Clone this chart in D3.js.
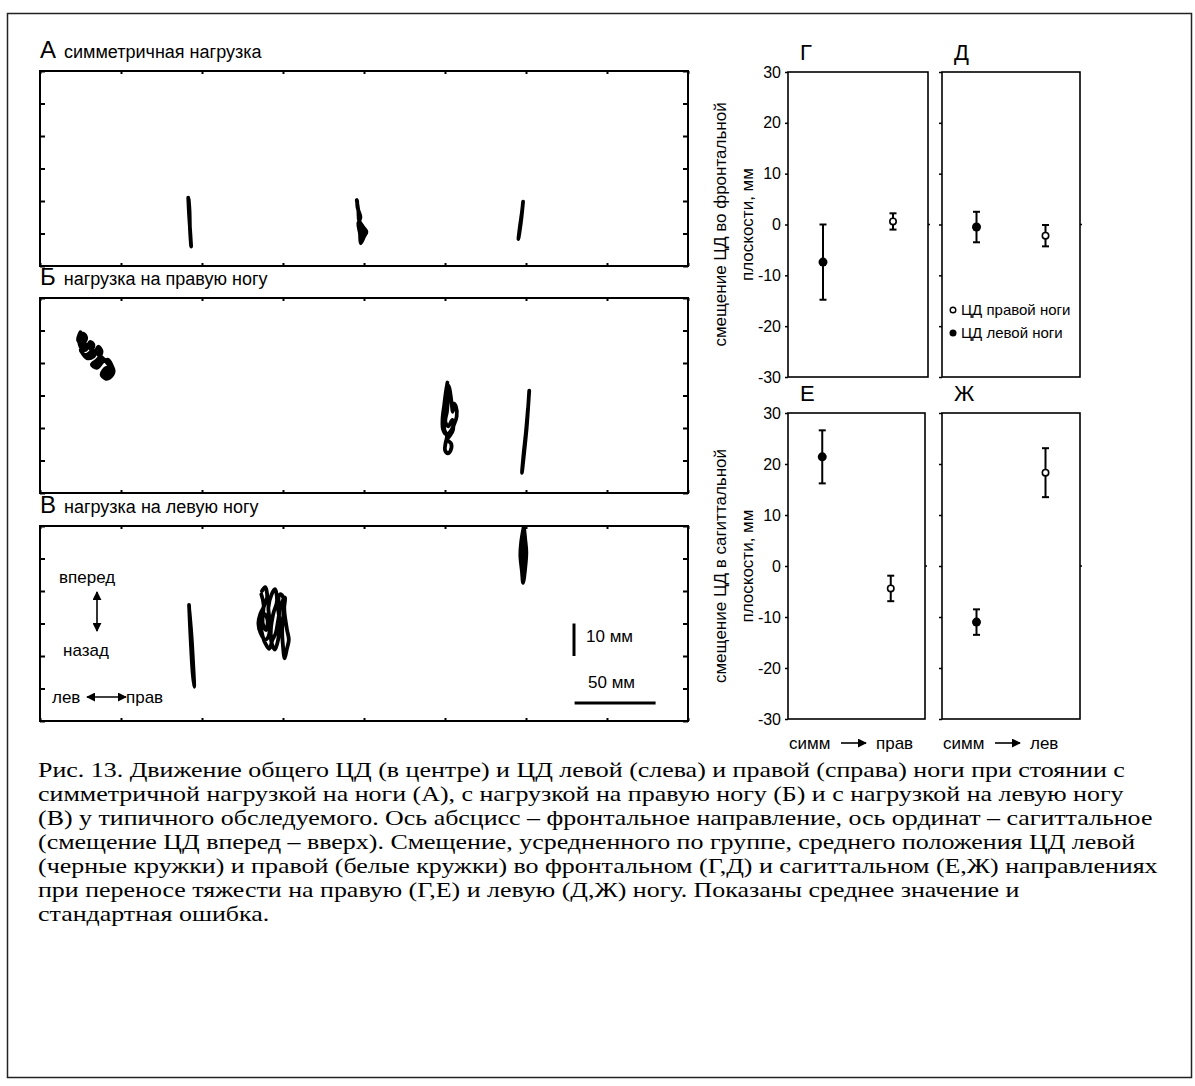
<!DOCTYPE html>
<html>
<head>
<meta charset="utf-8">
<script src="https://cdn.jsdelivr.net/npm/d3@7"></script>
<style>
  body { margin: 0; background: #fff; }
  svg { display: block; }
</style>
</head>
<body>
<script>
// ---- Center-of-pressure traces, mm (x: frontal 0..400, y: sagittal 0..60) ----
// A: symmetric load
const symLeft   = [[91.5,21],[92,16],[92.8,10],[93.3,6],[92.6,11],[92.3,17],[91.8,20.5]];
const symCenter = [[195.5,20.3],[196.5,17],[197,14],[199.5,12],[201.5,10.5],[200,9],[198,7],[197.5,10],
                   [196.5,13],[197.8,15],[196,18],[195.8,20]];
const symRight  = [[298.2,19.8],[297,14],[295.3,8.3],[296.2,12],[297.6,17],[298.2,19.8]];
// Б: load on the right leg
const rightLoadLeft = [[25,49.5],[23.5,47],[26,46],[28.5,47.5],[27,49],[24.5,48],[25,45],[28,44],[31,46.5],
                       [33,45.5],[30.5,43],[27.5,42.5],[25,44],[29,41.5],[33,42],[36,45],[38,43.5],[35.5,41],
                       [32,39.5],[35,38.5],[39,40.5],[42,41],[44.5,39],[45.5,37.5],[43,35.5],[40.5,35.2],
                       [38,36.5],[41,38.5],[43.5,38],[41.5,40],[37.5,42],[34,43.5],[31,44.5],[28.5,45.5],[26,47.5]];
const rightLoadCenter = [[251.5,34],[250.5,31],[249.5,27],[248.5,23],[248.8,19.5],[251,18],[253.5,19],[255.5,21],
                         [257.2,23.5],[256.8,26.5],[255.5,27.5],[254.8,25],[254,28],[253.2,31],[252.3,33],[251.8,29],
                         [251.2,25],[250.2,22],[252,20.5],[254.5,22.5],[255,19.5],[252.8,17.5],[251.2,16.5],
                         [253.8,15.2],[253.4,13],[251.8,12.2],[250,13.2],[250.4,15.5],[251.2,17.5],[249.6,19.5],
                         [249.2,24],[250,28.5],[250.8,32]];
const rightLoadRight = [[302,31.5],[301,24],[300.4,20],[299.2,14],[297.5,6.2],[298.5,12],[300,19],[301.2,26]];
// В: load on the left leg
const leftLoadLeft = [[92,35.7],[93,25],[94.2,15],[95.2,10.5],[94.5,18],[93.4,27],[92.2,34]];
const leftLoadCenter = [[137,40],[139,41.2],[140.2,38],[138,35],[136,33],[134.8,30],[136.2,27],[139,25],[141,26],
                        [142,30],[141,35],[143,39],[145,40.6],[146.3,37],[144,33],[142.5,28],[143,24],[145,22],
                        [147,25],[148,30],[147,35],[148.2,39],[150,38.2],[151,33],[152.5,28],[153.6,25],[152.3,22],
                        [151,19.3],[150,23],[149.5,28],[150.5,34],[151.2,38],[149,36],[147,31],[145.5,27],[143.5,25],
                        [141.5,22.2],[139.5,23.5],[137.5,26],[136.2,31],[138.5,33],[140.5,31],[139.5,28],[137.5,30],
                        [138,36],[136.6,39]];
const leftLoadRight = [[298.5,59.5],[297,55],[296.5,51],[297.5,46],[298.2,42.5],[299.5,47],[300.2,52],[299.5,56],[298.8,59.5]];

// ---- Group mean CoP displacement (mm) and standard error ----
const footSeries = ["ЦД левой ноги", "ЦД правой ноги"];
const frontalToRight    = [-7.4, 0.6];
const frontalToRightSE  = [7.4, 1.6];
const frontalToLeft     = [-0.5, -2.2];
const frontalToLeftSE   = [3.0, 2.1];
const sagittalToRight   = [21.4, -4.4];
const sagittalToRightSE = [5.2, 2.5];
const sagittalToLeft    = [-11.0, 18.3];
const sagittalToLeftSE  = [2.5, 4.8];
const shiftTicks = [-30, -20, -10, 0, 10, 20, 30];

const captionLines = [
  "Рис. 13. Движение общего ЦД (в центре) и ЦД левой (слева) и правой (справа) ноги при стоянии с",
  "симметричной нагрузкой на ноги (А), с нагрузкой на правую ногу (Б) и с нагрузкой на левую ногу",
  "(В) у типичного обследуемого. Ось абсцисс – фронтальное направление, ось ординат – сагиттальное",
  "(смещение ЦД вперед – вверх). Смещение, усредненного по группе, среднего положения ЦД левой",
  "(черные кружки) и правой (белые кружки) во фронтальном (Г,Д) и сагиттальном (Е,Ж) направлениях",
  "при переносе тяжести на правую (Г,Е) и левую (Д,Ж) ногу. Показаны среднее значение и",
  "стандартная ошибка."
];

const SANS = "'Liberation Sans', Arial, sans-serif";
const SERIF = "'Liberation Serif', 'Times New Roman', serif";

const svg = d3.select("body").append("svg").attr("width", 1195).attr("height", 1086);

const defs = svg.append("defs");
defs.append("marker").attr("id", "head").attr("viewBox", "0 0 10 10")
  .attr("refX", 9).attr("refY", 5).attr("markerWidth", 9).attr("markerHeight", 9)
  .attr("markerUnits", "userSpaceOnUse").attr("orient", "auto-start-reverse")
  .append("path").attr("d", "M0,0 L10,5 L0,10 Z").attr("fill", "#000");

// page frame
svg.append("rect").attr("x", 7.5).attr("y", 13.5).attr("width", 1184).attr("height", 1064)
  .attr("fill", "none").attr("stroke", "#222").attr("stroke-width", 1.5);

// ---- stance panels ----
const stanceX = d3.scaleLinear().domain([0, 400]).range([40, 688]);
const stancePanels = [
  { letter: "А", label: "симметричная нагрузка", top: 71,
    traces: [symLeft, symCenter, symRight], fill: ["nonzero", "nonzero", "nonzero"] },
  { letter: "Б", label: "нагрузка на правую ногу", top: 298,
    traces: [rightLoadLeft, rightLoadCenter, rightLoadRight], fill: ["evenodd", null, "nonzero"] },
  { letter: "В", label: "нагрузка на левую ногу", top: 526,
    traces: [leftLoadLeft, leftLoadCenter, leftLoadRight], fill: ["nonzero", null, "nonzero"] }
];
const stanceH = 195;

stancePanels.forEach((p, i) => {
  const y = d3.scaleLinear().domain([0, 60]).range([p.top + stanceH, p.top]);
  const g = svg.append("g");

  const t = g.append("text").attr("x", 40).attr("y", p.top - 13).attr("font-family", SANS).attr("fill", "#000");
  t.append("tspan").attr("font-size", 24).text(p.letter);
  t.append("tspan").attr("font-size", 18).attr("dx", 8).text(p.label);

  const clean = sel => { sel.select(".domain").remove(); sel.selectAll("text").remove();
    sel.selectAll("line").attr("stroke", "#000").attr("stroke-width", 2); };
  const xt = d3.range(0, 401, 50), yt = d3.range(0, 61, 10);
  g.append("g").attr("transform", `translate(0,${p.top})`)
    .call(d3.axisBottom(stanceX).tickValues(xt).tickSize(3)).call(clean);
  g.append("g").attr("transform", `translate(0,${p.top + stanceH})`)
    .call(d3.axisTop(stanceX).tickValues(xt).tickSize(3)).call(clean);
  g.append("g").attr("transform", `translate(40,0)`)
    .call(d3.axisRight(y).tickValues(yt).tickSize(5)).call(clean);
  g.append("g").attr("transform", `translate(688,0)`)
    .call(d3.axisLeft(y).tickValues(yt).tickSize(5)).call(clean);

  g.append("rect").attr("x", 40).attr("y", p.top).attr("width", 648).attr("height", stanceH)
    .attr("fill", "none").attr("stroke", "#000").attr("stroke-width", 2);

  const line = d3.line().x(d => stanceX(d[0])).y(d => y(d[1])).curve(d3.curveCatmullRom.alpha(0.5));
  p.traces.forEach((tr, k) => {
    const rule = p.fill[k];
    g.append("path").attr("d", line(tr)).attr("fill", rule ? "#000" : "none").attr("fill-rule", rule || "nonzero")
      .attr("stroke", "#000").attr("stroke-width", 3.8)
      .attr("stroke-linejoin", "round").attr("stroke-linecap", "round");
  });

  if (i === 2) {
    // orientation key
    const ak = g.append("g").attr("font-family", SANS).attr("font-size", 17).attr("fill", "#000");
    ak.append("text").attr("x", 59).attr("y", 583).text("вперед");
    ak.append("text").attr("x", 63).attr("y", 656).text("назад");
    ak.append("line").attr("x1", 97).attr("x2", 97).attr("y1", 592).attr("y2", 631)
      .attr("stroke", "#000").attr("stroke-width", 1.6)
      .attr("marker-start", "url(#head)").attr("marker-end", "url(#head)");
    ak.append("text").attr("x", 52).attr("y", 703).text("лев");
    ak.append("line").attr("x1", 87).attr("x2", 126).attr("y1", 697).attr("y2", 697)
      .attr("stroke", "#000").attr("stroke-width", 1.6)
      .attr("marker-start", "url(#head)").attr("marker-end", "url(#head)");
    ak.append("text").attr("x", 126).attr("y", 703).text("прав");

    // scale bars: 10 mm sagittal, 50 mm frontal
    g.append("line").attr("x1", 574).attr("x2", 574).attr("y1", y(30)).attr("y2", y(30) + (y(0) - y(10)))
      .attr("stroke", "#000").attr("stroke-width", 3);
    ak.append("text").attr("x", 586).attr("y", 642).text("10 мм");
    g.append("line").attr("x1", stanceX(330)).attr("x2", stanceX(380)).attr("y1", 703).attr("y2", 703)
      .attr("stroke", "#000").attr("stroke-width", 3);
    ak.append("text").attr("x", 588).attr("y", 688).text("50 мм");
  }
});

// ---- mean displacement panels ----
const devPanels = [
  { letter: "Г", mean: frontalToRight,  se: frontalToRightSE,  x0: 788, x1: 928, top: 72,  bottom: 377, lead: true,
    ylab: ["смещение ЦД во фронтальной", "плоскости, мм"] },
  { letter: "Д", mean: frontalToLeft,   se: frontalToLeftSE,   x0: 942, x1: 1080, top: 72,  bottom: 377, legend: true },
  { letter: "Е", mean: sagittalToRight, se: sagittalToRightSE, x0: 788, x1: 925, top: 413, bottom: 719, lead: true,
    ylab: ["смещение ЦД в сагиттальной", "плоскости, мм"], xlab: ["симм", "прав"] },
  { letter: "Ж", mean: sagittalToLeft,  se: sagittalToLeftSE,  x0: 942, x1: 1080, top: 413, bottom: 719, xlab: ["симм", "лев"] }
];

devPanels.forEach(p => {
  const g = svg.append("g").attr("font-family", SANS);
  const x = d3.scalePoint().domain(footSeries).range([p.x0, p.x1]).padding(0.5);
  const y = d3.scaleLinear().domain([-30, 30]).range([p.bottom, p.top]);

  g.append("text").attr("x", p.x0 + 12).attr("y", p.top - 12).attr("font-size", 22).text(p.letter);

  const ax = g.append("g").attr("transform", `translate(${p.x0},0)`)
    .call(d3.axisLeft(y).tickValues(shiftTicks).tickSize(3).tickPadding(4).tickFormat(d => String(d)));
  ax.select(".domain").remove();
  ax.selectAll("line").attr("stroke", "#000").attr("stroke-width", 1.5);
  if (p.lead) ax.selectAll("text").attr("font-size", 16).attr("font-family", SANS).attr("fill", "#000");
  else ax.selectAll("text").remove();

  // small tick at zero on the right edge
  g.append("line").attr("x1", p.x1).attr("x2", p.x1 + 2).attr("y1", y(0)).attr("y2", y(0))
    .attr("stroke", "#000").attr("stroke-width", 1.5);

  g.append("rect").attr("x", p.x0).attr("y", p.top).attr("width", p.x1 - p.x0).attr("height", p.bottom - p.top)
    .attr("fill", "none").attr("stroke", "#000").attr("stroke-width", 1.6);

  footSeries.forEach((s, k) => {
    const cx = x(s), m = p.mean[k], e = p.se[k];
    g.append("line").attr("x1", cx).attr("x2", cx).attr("y1", y(m + e)).attr("y2", y(m - e))
      .attr("stroke", "#000").attr("stroke-width", 2);
    [m + e, m - e].forEach(v => g.append("line").attr("x1", cx - 3.5).attr("x2", cx + 3.5)
      .attr("y1", y(v)).attr("y2", y(v)).attr("stroke", "#000").attr("stroke-width", 2));
    if (k === 0) g.append("circle").attr("cx", cx).attr("cy", y(m)).attr("r", 4.5).attr("fill", "#000");
    else g.append("circle").attr("cx", cx).attr("cy", y(m)).attr("r", 3.2).attr("fill", "#fff")
      .attr("stroke", "#000").attr("stroke-width", 1.6);
  });

  if (p.ylab) {
    const cy = (p.top + p.bottom) / 2;
    p.ylab.forEach((l, k) => g.append("text")
      .attr("transform", `translate(${726 + k * 27},${cy}) rotate(-90)`)
      .attr("text-anchor", "middle").attr("font-size", 17).text(l));
  }

  if (p.legend) {
    const lg = g.append("g").attr("font-size", 15);
    lg.append("circle").attr("cx", 953).attr("cy", 310).attr("r", 2.8).attr("fill", "#fff")
      .attr("stroke", "#000").attr("stroke-width", 1.4);
    lg.append("text").attr("x", 961).attr("y", 315).text(footSeries[1]);
    lg.append("circle").attr("cx", 953).attr("cy", 333).attr("r", 3.5).attr("fill", "#000");
    lg.append("text").attr("x", 961).attr("y", 338).text(footSeries[0]);
  }

  if (p.xlab) {
    const by = 749;
    g.append("text").attr("x", p.x0 + 1).attr("y", by).attr("font-size", 17).text(p.xlab[0]);
    g.append("line").attr("x1", p.x0 + 53).attr("x2", p.x0 + 78).attr("y1", by - 6).attr("y2", by - 6)
      .attr("stroke", "#000").attr("stroke-width", 1.6).attr("marker-end", "url(#head)");
    g.append("text").attr("x", p.x0 + 88).attr("y", by).attr("font-size", 17).text(p.xlab[1]);
  }
});

// ---- caption: widened so the longest line spans the text column ----
const cap = svg.append("g").attr("font-family", SERIF).attr("font-size", 21.5).attr("fill", "#000");
const capNodes = captionLines.map((l, i) => cap.append("text").attr("x", 0).attr("y", 777 + i * 24).text(l).node());
const widest = d3.max(capNodes, n => n.getComputedTextLength());
cap.attr("transform", `translate(38,0) scale(${(1120 / widest).toFixed(4)},1)`);
</script>
</body>
</html>
